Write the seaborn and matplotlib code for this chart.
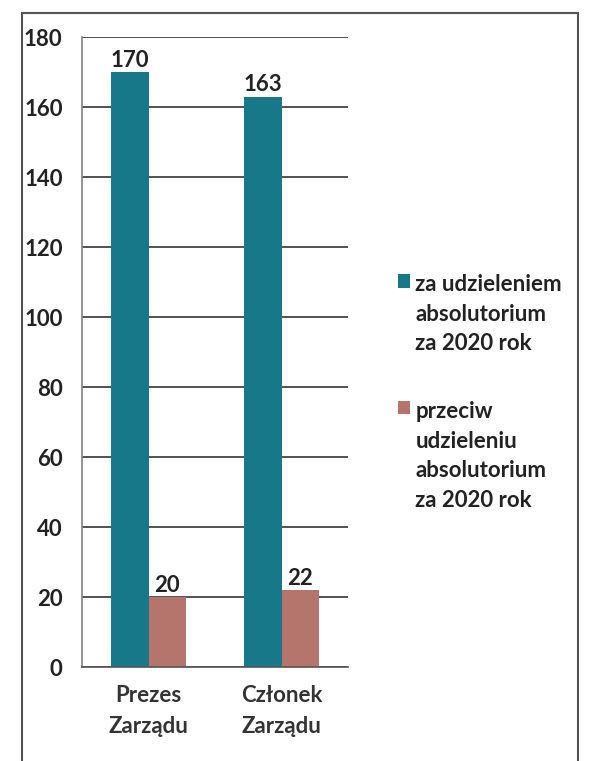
# plot.py - absolutorium vote chart
import pandas as pd
import numpy as np
import matplotlib
matplotlib.use("Agg")
import matplotlib.pyplot as plt
import seaborn as sns
from matplotlib.patches import Rectangle

# data
categories = ["Prezes\nZarządu", "Członek\nZarządu"]
series_names = ["za udzieleniem\nabsolutorium\nza 2020 rok",
                "przeciw\nudzieleniu\nabsolutorium\nza 2020 rok"]
votes_for = [170, 163]
votes_against = [20, 22]
y_ticks = [0, 20, 40, 60, 80, 100, 120, 140, 160, 180]

colors = ["#17788a", "#b5746c"]
FS = 16

df = pd.DataFrame({
    "category": categories * 2,
    "series": [series_names[0]] * 2 + [series_names[1]] * 2,
    "value": votes_for + votes_against,
})

sns.set_theme(style="white")
plt.rcParams["font.family"] = ["Lato", "DejaVu Sans"]
plt.rcParams["font.weight"] = "bold"

fig = plt.figure(figsize=(5.9, 7.61), dpi=100)
ax = fig.add_axes([0.139, 0.1235, 0.451, 0.8275])

sns.barplot(data=df, x="category", y="value", hue="series", palette=colors,
            width=0.56, saturation=1, linewidth=0, ax=ax, legend=True)

# value labels
for cont in ax.containers:
    ax.bar_label(cont, fontsize=FS, fontweight="bold", color="#222222", padding=1)

ax.set_ylim(0, 180)
ax.set_xlim(-0.5, 1.5)
ax.set_yticks(y_ticks)
ax.set_yticklabels([str(t) for t in y_ticks], fontsize=FS, fontweight="bold", color="#222222")
ax.set_xticks([0, 1])
ax.set_xticklabels(categories, fontsize=FS, fontweight="bold", color="#333333", linespacing=1.6)
ax.set_xticks([0.5, 1.5], minor=True)
ax.set_xlabel("")
ax.set_ylabel("")
ax.tick_params(axis="y", pad=14, length=0)
ax.tick_params(axis="x", which="major", pad=13, length=0)
ax.tick_params(axis="x", which="minor", length=5, width=1.2, color="#555555", direction="out")

ax.yaxis.grid(True, color="#333333", linewidth=1.2)
ax.set_axisbelow(True)
for side in ["top", "right"]:
    ax.spines[side].set_visible(False)
ax.spines["left"].set_color("#888888")
ax.spines["bottom"].set_color("#555555")
ax.spines["bottom"].set_linewidth(1.2)

# legend on the right, marker next to the first line of each entry
handles, labels = ax.get_legend_handles_labels()
leg = ax.legend(handles, labels, loc="upper left", bbox_to_anchor=(0.655, 0.654),
                bbox_transform=fig.transFigure, frameon=False, borderpad=0,
                handlelength=0.55, handleheight=0.55, handletextpad=0.25,
                labelspacing=2.1, prop={"weight": "bold", "size": FS})
for t in leg.get_texts():
    t.set_color("#222222")
    t.set_linespacing(1.5)
for col in leg._legend_handle_box.get_children():
    for item in col.get_children():
        item.align = "top"

# frame around the chart
fig.patches.append(Rectangle((0.037, -0.01), 0.943, 0.993, transform=fig.transFigure,
                             fill=False, edgecolor="#555555", linewidth=1.5))

fig.savefig("out.png", dpi=100)
